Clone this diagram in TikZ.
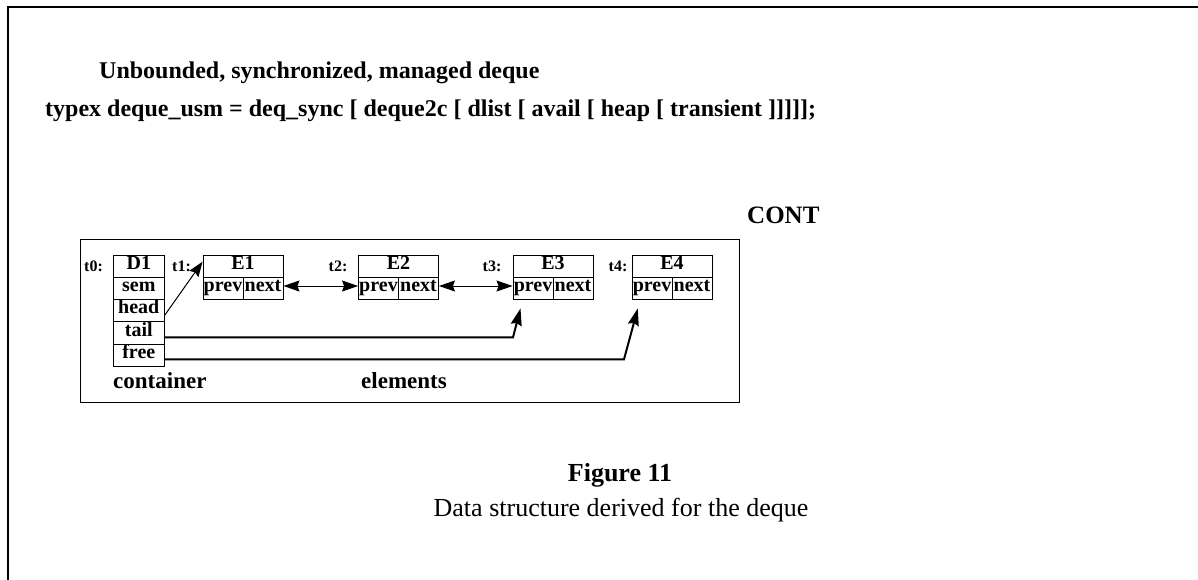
\documentclass[tikz,border=0pt]{standalone}
\usepackage{fontspec}
\setmainfont{Liberation Serif}
\usetikzlibrary{arrows.meta,calc}
\begin{document}
\begin{tikzpicture}[x=1pt,y=-1pt,
  cellfont/.style={font=\fontsize{20}{20}\selectfont\bfseries},
  cell/.style={draw,line width=0.9pt,inner sep=0pt,cellfont,text height=0.66em,text depth=0.02em},
  tlabel/.style={inner sep=0pt,font=\fontsize{16}{16}\selectfont\bfseries},
  biglabel/.style={inner sep=0pt,font=\fontsize{23}{23}\selectfont\bfseries},
  headfont/.style={inner sep=0pt,font=\fontsize{24}{24}\selectfont\bfseries},
  arr/.style={line width=1pt,-{Stealth[length=15pt,width=11pt,inset=2pt]}},
  darr/.style={line width=1pt,{Stealth[length=16pt,width=11pt,inset=2pt]}-{Stealth[length=16pt,width=11pt,inset=2pt]}},
  tarr/.style={line width=2pt,-{Stealth[length=17pt,width=11pt,inset=2pt]}},
]
\useasboundingbox (0,0) rectangle (1198,580);
% outer frame
\draw[line width=2pt] (7.5,580) -- (7.5,6.7) -- (1198,6.7);
% titles
\node[headfont,anchor=base west] (title) at (99,79) {Unbounded, synchronized, managed deque};
\node[headfont,anchor=base west] (typex) at (45,117) {typex deque\_usm = deq\_sync [ deque2c [ dlist [ avail [ heap [ transient ]]]]];};
\node[anchor=base west,inner sep=0pt,font=\fontsize{25}{25}\selectfont\bfseries] (cont) at (747,223) {CONT};
% inner box
\node[draw,line width=1pt,inner sep=0pt,minimum width=659pt,minimum height=163pt] (frame) at (409.5,320.5) {};
% container column
\node[cell,minimum width=51pt,minimum height=22.3pt] (D1) at (138.8,266.1) {D1};
\node[cell,minimum width=51pt,minimum height=22.3pt] (sem) at (138.8,288.4) {sem};
\node[cell,minimum width=51pt,minimum height=22.3pt] (head) at (138.8,310.7) {head};
\node[cell,minimum width=51pt,minimum height=22.3pt] (tail) at (138.8,333.0) {tail};
\node[cell,minimum width=51pt,minimum height=22.3pt] (free) at (138.8,355.3) {free};
% element boxes
\foreach \n/\x in {1/203,2/358.5,3/513,4/632}{
  \node[cell,minimum width=80pt,minimum height=22.5pt] (E\n) at (\x+40,266.2) {E\n};
  \node[cell,minimum width=40pt,minimum height=22pt] (E\n p) at (\x+20,288.5) {prev};
  \node[cell,minimum width=40pt,minimum height=22pt] (E\n n) at (\x+60,288.5) {next};
}
% labels
\node[tlabel] (t0) at (93.5,266.5) {t0:};
\node[tlabel] (t1) at (181.5,266.5) {t1:};
\node[tlabel] (t2) at (338,266.5) {t2:};
\node[tlabel] (t3) at (492,266.5) {t3:};
\node[tlabel] (t4) at (618,266.5) {t4:};
\node[biglabel,anchor=base west] (cont2) at (113,388) {container};
\node[biglabel,anchor=base west] (elem) at (361,388) {elements};
% connectors
\draw[arr] ([yshift=-4.5pt]head.east) -- ([yshift=4.5pt]E1.west);
\draw[darr] ([yshift=2.5pt]E1n.east) -- ([yshift=2.5pt]E2p.west);
\draw[darr] ([yshift=2.5pt]E2n.east) -- ([yshift=2.5pt]E3p.west);
\coordinate (tc) at (513,337.3);
\coordinate (tt) at ($(E3p.south)+(-12.5,8.5)$);
\draw[tarr] (tail.east |- tc) -- (tc) -- (tt);
\coordinate (fc) at (624,359.3);
\coordinate (ft) at ($(E4p.south)+(-14.2,8.5)$);
\draw[tarr] (free.east |- fc) -- (fc) -- (ft);
% caption
\node[anchor=base,inner sep=0pt,font=\fontsize{26}{26}\selectfont\bfseries] (fig) at (620,481) {Figure 11};
\node[anchor=base,inner sep=0pt,font=\fontsize{26}{26}\selectfont] (cap) at (621,516) {Data structure derived for the deque};
\end{tikzpicture}
\end{document}
